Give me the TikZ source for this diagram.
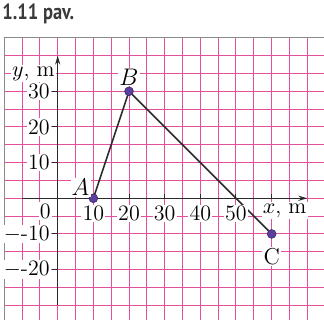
\documentclass[tikz,border=0pt]{standalone}
\usepackage{fontspec}
\newfontfamily\capfont{PT Sans}
\usetikzlibrary{arrows.meta,positioning,backgrounds}
\definecolor{GridPink}{HTML}{E4509C}
\definecolor{FrameGray}{HTML}{8A8A8A}
\definecolor{AxisInk}{HTML}{2B2B2B}
\definecolor{DotViolet}{HTML}{5B3FA0}
\definecolor{CapText}{HTML}{3A3A3A}

\begin{document}
\begin{tikzpicture}[x=1.783pt,y=1.783pt,
    gridline/.style={GridPink,line width=0.5pt},
    axisline/.style={AxisInk,line width=0.6pt,-{Stealth[length=4.5pt,width=2.6pt]}},
    ticklbl/.style={fill=white,inner sep=0.6pt,font=\fontsize{11}{13}\selectfont},
    ptdot/.style={circle,fill=DotViolet,draw=DotViolet!60!black,line width=0.3pt,inner sep=0pt,minimum size=4.4pt},
    ptlbl/.style={fill=white,inner sep=0.6pt,font=\fontsize{11.5}{13}\selectfont}]
  \useasboundingbox (-16.18,-34.1) rectangle (74.68,55.6);
  % squared paper
  \begin{scope}[on background layer]
  \foreach \x in {-10,-5,...,70} {
    \draw[gridline] (\x,-34.1) -- (\x,45);
  }
  \foreach \y in {-30,-25,...,40} {
    \draw[gridline] (-15,\y) -- (74.68,\y);
  }
  \end{scope}
  \draw[FrameGray,line width=0.6pt] (-15,-34.1) -- (-15,45) -- (74.68,45);
  \node[font=\capfont\bfseries\fontsize{11}{13}\selectfont,text=CapText,anchor=west,inner sep=0pt,xscale=0.84,transform shape] (cap) at (-15.6,51.7) {1.11 pav.};
  % axes
  \coordinate (xs) at (-10,0);
  \coordinate (xe) at (70,0);
  \coordinate (ys) at (0,-30);
  \coordinate (ye) at (0,40);
  \draw[axisline] (xs) -- (xe);
  \draw[axisline] (ys) -- (ye);
  \foreach \x in {10,20,...,50} {
    \draw[AxisInk,line width=0.5pt] (\x,0) -- (\x,1.3);
    \node[ticklbl] at (\x,-4.3) {\x};
  }
  \draw[AxisInk,line width=0.5pt] (60,0) -- (60,1.3);
  \foreach \y in {10,20,30} {
    \draw[AxisInk,line width=0.5pt] (0,\y) -- (-1.5,\y);
    \node[ticklbl,anchor=east] at (-1.8,\y) {\y};
  }
  \foreach \y in {-10,-20} {
    \draw[AxisInk,line width=0.5pt] (0,\y) -- (-1.5,\y);
    \node[ticklbl,anchor=east] at (-1.8,\y) {$-$\y};
  }
  \node[ticklbl,anchor=east] at (-1.5,-3.6) {0};
  \node[ticklbl,anchor=east] (ylbl) at (-0.4,35) {$y$, m};
  \node[ticklbl,anchor=east] (xlbl) at (70.2,-3.4) {$x$, m};
  % path
  \node[ptdot] (A) at (10,0) {};
  \node[ptdot] (B) at (20,30) {};
  \node[ptdot] (C) at (60,-10) {};
  \begin{scope}[on background layer]
  \draw[AxisInk,line width=0.8pt] (A.center) -- (B.center) -- (C.center);
  \end{scope}
  \node[ptlbl] (lA) at (6.4,3) {$A$};
  \node[ptlbl] (lB) at (20,34) {$B$};
  \node[ptlbl] (lC) at (60,-16.4) {C};
\end{tikzpicture}
\end{document}
